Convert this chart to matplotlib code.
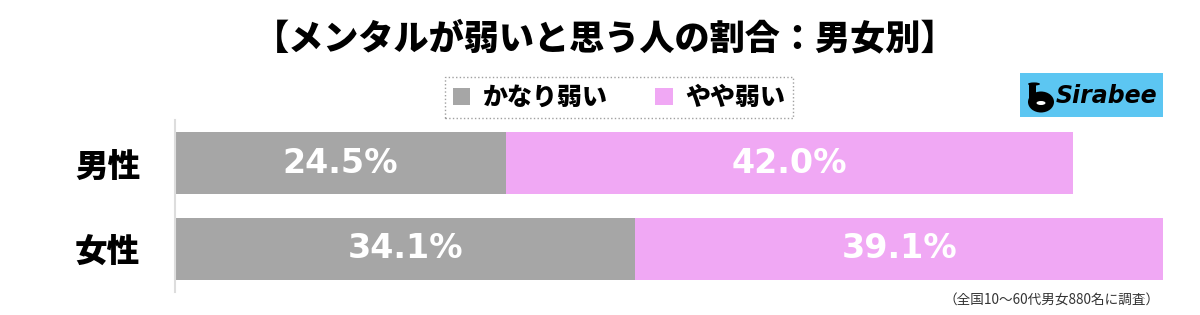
import matplotlib
matplotlib.use("Agg")
import matplotlib.pyplot as plt
from matplotlib.patches import Rectangle, Circle, Ellipse

plt.rcParams['font.family'] = ['Noto Sans CJK JP', 'DejaVu Sans']

categories = ["男性", "女性"]
series_names = ["かなり弱い", "やや弱い"]
very_weak = [24.5, 34.1]
somewhat_weak = [42.0, 39.1]
colors = ["#a6a6a6", "#f0a8f4"]

fig = plt.figure(figsize=(12, 3.15), dpi=100)
ax = fig.add_axes([175/1200, 1-292/315, (1187.5-175)/1200, 172/315])

y = list(range(len(categories)))
h = 62/85
b1 = ax.barh(y, very_weak, height=h, color=colors[0], label=series_names[0])
b2 = ax.barh(y, somewhat_weak, left=very_weak, height=h, color=colors[1], label=series_names[1])

for i in y:
    ax.text(very_weak[i]/2, i, f"{very_weak[i]:.1f}%", ha='center', va='center',
            color='white', fontsize=24, fontweight='bold', family=['DejaVu Sans'])
    ax.text(very_weak[i] + somewhat_weak[i]/2, i, f"{somewhat_weak[i]:.1f}%", ha='center', va='center',
            color='white', fontsize=24, fontweight='bold', family=['DejaVu Sans'])

ax.set_xlim(0, 75)
ax.set_ylim(1.51, -0.51)
ax.set_yticks(y)
ax.set_yticklabels(categories, fontsize=23.5, fontweight='heavy')
ax.tick_params(axis='y', length=0, pad=25)
ax.set_xticks([])
for s in ['top', 'right', 'bottom']:
    ax.spines[s].set_visible(False)
ax.spines['left'].set_color('#dddddd')
ax.spines['left'].set_linewidth(1.5)

fig.text(605/1200, 1-38/315, "【メンタルが弱いと思う人の割合：男女別】", ha='center', va='center',
         fontsize=25.3, fontweight='heavy')

leg = fig.legend(handles=[b1, b2], loc='center', bbox_to_anchor=(619/1200, 1-97/315),
                 ncol=2, frameon=True, fancybox=False, handlelength=0.7,
                 handleheight=0.7, handletextpad=0.5, columnspacing=1.9, borderpad=0.3,
                 prop={'weight': 'heavy', 'size': 18})
leg.get_frame().set_edgecolor('#888888')
leg.get_frame().set_linestyle(':')
leg.get_frame().set_linewidth(1.0)

# Sirabee logo
fig.patches.append(Rectangle((1020/1200, 1-117/315), 143/1200, 44/315,
                             transform=fig.transFigure, facecolor='#5cc6f2', edgecolor='none'))
fig.patches.append(Ellipse((1041/1200, 1-102/315), 26/1200, 21/315, transform=fig.transFigure,
                           facecolor='black', edgecolor='none'))
fig.patches.append(Circle((1034/1200, 1-84/315), 6/1200, transform=fig.transFigure,
                          facecolor='black', edgecolor='none'))
fig.patches.append(Rectangle((1029/1200, 1-98/315), 7/1200, 14/315, transform=fig.transFigure,
                             facecolor='black', edgecolor='none'))
fig.patches.append(Ellipse((1041/1200, 1-103/315), 9/1200, 4/315, transform=fig.transFigure,
                           facecolor='white', edgecolor='none'))
fig.text(1056/1200, 1-96/315, "Sirabee", ha='left', va='center', fontsize=17,
         fontweight='bold', style='italic', family=['DejaVu Sans'])

fig.text(1160/1200, 1-300/315, "（全国10～60代男女880名に調査）", ha='right', va='center',
         fontsize=9.8, color='#333333')

fig.savefig("out.png", dpi=100)
